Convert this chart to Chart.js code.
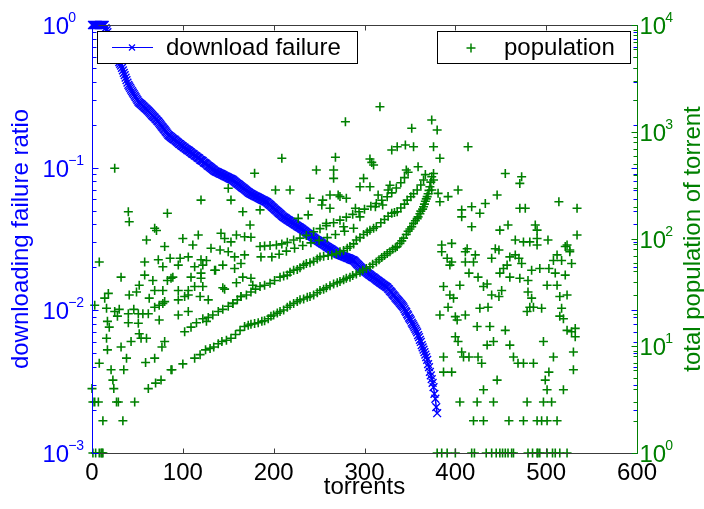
<!DOCTYPE html>
<html>
<head>
<meta charset="utf-8">
<script src="https://cdn.jsdelivr.net/npm/chart.js@4.4.1/dist/chart.umd.min.js"></script>
<style>
  html, body { margin: 0; padding: 0; background: #ffffff; }
  canvas { display: block; }
</style>
</head>
<body>
<canvas id="chart" width="704" height="509"></canvas>
<script>
// ---- axis ticks ----
const xTicks = [0, 100, 200, 300, 400, 500, 600];
const leftTicks = [0.001, 0.01, 0.1, 1];
const rightTicks = [1, 10, 100, 1000, 10000];

// ---- download failure ratio per torrent (torrent index = position) ----
const failureRatio = [
  1,1,1,1,1,1,1,1,1,1,1,1,1,1,1,
  0.95,0.92,0.89,0.85,0.82,0.79,0.75,0.72,0.70,0.67,0.65,0.63,0.61,0.59,0.57,0.55,0.535,
  0.52,0.50,0.481,0.462,0.445,0.428,0.411,0.395,0.38,
  0.371,0.362,0.353,0.344,0.336,0.328,0.320,0.312,0.305,0.297,0.29,
  0.286,0.282,0.279,0.275,0.271,0.268,0.264,0.260,0.257,0.253,0.25,
  0.246,0.242,0.238,0.234,0.231,0.227,0.224,0.220,0.217,0.213,0.21,
  0.206,0.202,0.198,0.194,0.191,0.187,0.184,0.180,0.177,0.173,0.17,
  0.168,0.166,0.164,0.162,0.160,0.158,0.157,0.155,0.153,0.151,0.149,0.147,0.146,0.144,
  0.142,0.141,0.139,0.138,0.136,0.135,0.133,0.132,0.131,0.129,0.128,0.126,0.125,0.124,0.122,0.121,0.120,0.118,0.117,
  0.116,0.114,0.113,0.112,0.111,0.109,0.108,0.107,0.106,0.104,0.103,0.102,0.101,0.0997,0.0985,0.0974,0.0963,0.095,
  0.0943,0.0936,0.0929,0.0923,0.0916,0.0909,0.0903,0.0896,0.0890,0.0883,0.0877,0.0870,0.0864,0.0858,0.0851,0.0845,0.0839,0.0833,0.0827,0.082,
  0.0811,0.0802,0.0792,0.0783,0.0774,0.0766,0.0757,0.0748,0.0740,0.0731,0.0723,0.0715,0.0707,0.0699,0.0691,0.0683,0.0675,0.0667,0.066,
  0.0655,0.0650,0.0645,0.0640,0.0635,0.0630,0.0626,0.0621,0.0616,0.0612,0.0607,0.0602,0.0598,0.0593,0.0589,0.0584,0.0580,0.0575,0.057,
  0.0563,0.0555,0.0548,0.0541,0.0534,0.0527,0.0520,0.0513,0.0506,0.0500,0.0493,0.0487,0.0480,0.0474,0.0468,0.0462,0.0456,0.045,
  0.0446,0.0442,0.0437,0.0433,0.0429,0.0425,0.0421,0.0417,0.0413,0.0409,0.0405,0.0401,0.0398,0.0394,0.0390,0.0386,0.0383,0.038,
  0.0376,0.0372,0.0368,0.0364,0.0360,0.0356,0.0352,0.0348,0.0344,0.0341,0.0337,0.0333,0.0330,0.0326,0.0323,0.0319,0.0316,0.0312,0.031,
  0.0307,0.0304,0.0301,0.0298,0.0295,0.0292,0.0290,0.0287,0.0284,0.0281,0.0279,0.0276,0.0273,0.0271,0.0268,0.0266,0.0263,0.0261,0.0258,0.0256,0.0253,0.025,
  0.0248,0.0247,0.0245,0.0244,0.0242,0.0241,0.0239,0.0238,0.0236,0.0235,0.0233,0.0232,0.0231,0.0229,0.0228,0.0226,0.0225,0.0224,
  0.0221,0.0218,0.0214,0.0211,0.0208,0.0205,0.0202,0.0199,0.0196,0.0193,
  0.0191,0.0189,0.0187,0.0185,0.0183,0.0181,0.0179,0.0177,0.0175,0.0173,0.0171,0.0170,0.0168,0.0166,0.0164,0.0162,0.0161,0.0159,0.0157,0.0156,0.0154,0.0152,0.0151,0.0149,0.0148,0.0146,0.0145,
  0.0142,0.0140,0.0137,0.0135,0.0133,0.0130,0.0128,0.0126,0.0123,0.0121,0.0119,0.0117,0.0115,0.0113,0.0111,0.0109,0.0107,0.0105,
  0.0102,0.0099,0.0097,0.0094,0.0092,0.0089,0.0087,0.0085,0.0082,0.0080,0.0078,0.0076,0.0074,0.0072,0.0070,
  0.0067,0.0065,0.0062,0.0060,0.0057,0.0055,0.0053,0.0051,0.0049,0.0047,0.0045,
  0.0042,0.0040,0.0037,0.0035,0.0033,0.0031,0.0029,
  0.0026,0.0024,0.0021,0.0019
];

// ---- total population of torrent: [torrent, population] ----
const popLeft = [
  [25,458],[179,411],[120,231],[153,231],[150,298],[40,180],[83,174],[41,145],[166,180],[185,187],
  [174,135],[69,126],[71,120],[60,98],[100,101],[117,109],[80,85],[111,88],[142,113],[146,101],
  [153,94],[159,109],[168,105],[175,104],[131,82],[141,79],[150,76],[157,68],[168,71],[185,85],
  [186,68],[8,61],[58,61],[73,64],[86,66],[97,66],[106,68],[120,64],[126,63],[78,55],
  [95,57],[113,55],[122,57],[135,51],[136,51],[144,57],[157,53],[164,59],[32,44],[58,46],
  [67,41],[87,43],[89,44],[109,44],[120,43],[120,48],[83,41],[166,44],[175,43],[52,37],
  [69,33],[78,33],[95,33],[106,33],[113,36],[122,36],[144,35],[146,34],[159,39],[177,37],
  [18,31],[14,28],[41,30],[49,32],[63,28],[78,25],[80,26],[95,27],[102,29],[106,30],
  [119,29],[128,27],[155,25],[164,29],[3,24],[16,22.5],[25,21],[30,22],[40,20],[46,22],
  [51,20],[56,20],[62,20],[69,23],[74,24],[95,19.5],[106,21],[126,17],[17,17],[28,19],
  [40,16.5],[51,16.3],[52,13],[74,17.5],[19,15],[16,11.8],[32,9.8],[43,11],[54,11.8],[60,11.8],
  [80,11],[77,9.8],[17,9.2],[38,7.7],[8,6.9],[21,6],[35,6],[59,7],[69,7.7],[23,4.8],
  [0,4],[24,4],[1,3],[3,3],[7,3],[29,3],[27,3],[47,3],[12,2],[34,2]
];

const popBandLow = [
  [62,4],[70,4.5],[76,4.8],[87,6],[88,6],[100,6.8],[113,7.7],[119,8.3],[125,9.2],[130,9.5],
  [134,9.8],[139,10.5],[143,11],[148,11.3],[153,11.8],[158,12.8],[163,14],[168,15.2],[172,15.6],[175,16],
  [179,16.2],[183,16.5],[187,17],[190,17.2],[194,18],[197,19],[200,19.5],[204,20.3],[207,21],[211,21.7],
  [215,23],[218,24],[222,25],[226,26],[229,27],[233,27.5],[237,28.5],[240,29],[244,30],[248,31.5],
  [251,33],[255,34],[258,35],[262,36.5],[266,38],[270,39],[273,40],[277,41.5],[280,43],[284,44],
  [287,45.5],[291,47],[295,49],[298,51],[302,53],[306,55],[309,58],[313,61],[316,64],[319,67],
  [322,70],[325,73],[328,76],[331,80],[334,83],[336,85],[339,91],[341,96],[343,102],[346,110],
  [348,118],[350,124],[352,130],[354,140],[356,148],[358,155],[359,161],[361,172],[362,182],[364,190],
  [365,200],[366,212],[367,225],[368,237],[369,249],[370,265],[371,285],[372,308],[373,340],[374,382]
];

const popBandMid = [
  [102,13.6],[109,15],[115,16.5],[122,18],[128,18.5],[133,19.5],[139,21],[144,22],[150,23.5],[155,25],
  [160,27],[164,29],[170,30],[175,32],[180,34],[185,36],[190,37],[196,38.5],[201,41],[207,44],
  [211,45],[215,46],[218,49],[222,51],[226,52],[229,54],[233,57],[236,59],[240,60],[244,62],
  [248,65],[251,68],[255,69],[260,70],[264,71],[269,73],[273,76],[277,78],[281,82],[284,85],
  [288,90],[291,98],[295,103],[299,110],[303,116],[306,121],[310,126],[313,130],[318,142],[322,152],
  [326,163],[330,174],[333,177],[336,180],[340,195],[344,212],[347,231],[351,248],[354,265],[358,287],
  [362,320],[365,356],[367,400]
];

const popBandUpper = [
  [198,68],[206,72],[214,77],[223,82],[232,87],[241,92],[250,97],[259,103],[268,110],[278,118],[288,126]
];

const popBandHigh = [
  [190,86],[196,87],[203,88],[209,90],[215,93],[222,98],[229,102],[236,108],[244,117],[251,125],
  [258,133],[266,142],[273,150],[280,160],[287,170],[294,180],[300,190],[307,202],[313,215],[319,230],
  [325,248],[330,270],[335,300],[340,335],[344,375],[348,420]
];

const popMid = [
  [317,1722],[279,1248],[374,1295],[352,1083],[380,1044],[345,756],[354,729],[330,679],[336,729],[376,729],
  [209,568],[268,580],[306,560],[308,520],[310,492],[247,442],[266,442],[266,369],[346,442],[359,474],
  [376,410],[376,356],[299,369],[202,287],[218,287],[295,308],[306,308],[326,287],[262,258],[271,258],
  [315,258],[240,240],[254,231],[273,249],[280,240],[253,208],[262,194],[290,194],[312,200],[320,208],
  [227,156],[238,168],[258,140],[277,130],[295,161],[328,318]
];

const popRight = [
  [414,729],[383,568],[455,410],[473,382],[471,331],[374,287],[381,267],[392,249],[403,287],[383,223],
  [446,258],[514,223],[534,194],[407,187],[418,200],[433,215],[427,174],[407,161],[471,194],[477,194],
  [418,130],[449,121],[458,135],[488,135],[534,109],[466,98],[475,94],[482,94],[490,101],[490,88],
  [502,98],[490,121],[521,85],[526,79],[385,88],[396,91],[385,76],[391,66],[394,57],[396,61],
  [413,81],[411,76],[422,71],[411,61],[420,61],[415,48],[425,44],[440,66],[448,79],[444,81],
  [453,53],[457,57],[449,48],[460,68],[466,71],[470,66],[473,59],[460,44],[471,43],[480,41],
  [484,51],[493,53],[503,53],[510,48],[508,63],[512,71],[517,63],[523,88],[526,76],[528,59],
  [521,46],[405,37],[431,36],[435,38],[440,30],[448,29],[451,33],[480,32],[484,28],[486,23],
  [495,22.5],[501,37],[512,37],[515,29],[523,30],[387,36],[394,30],[398,28],[392,23],[383,19.5],
  [400,18.8],[402,17.5],[411,19.5],[427,22.5],[436,23],[482,23],[479,21],[517,22.5],[515,19],[519,18],
  [523,14],[528,13.6],[532,14.6],[424,15.2],[438,15.2],[455,14],[400,12.2],[403,11],[407,8.8],[435,10.2],
  [442,11],[460,10.2],[497,11],[532,12.2],[530,8.8],[387,7.9],[409,7.9],[415,7.9],[425,7.9],[429,6.9],
  [464,7.9],[469,6.9],[475,6.9],[486,6.9],[508,7.9],[503,5.7],[387,5.7],[396,5.7],[530,6],[446,4.8],
  [499,4.8],[431,3.9],[501,3.9],[519,3.9],[405,3],[424,3],[442,3],[479,3],[497,3],[506,3],
  [420,2],[431,2],[459,2],[475,2],[490,2],[495,2],[501,2],[512,2]
];

// torrents with a population of exactly one
const popFloor = [
  1,4,8,10,11,12,
  380,385,391,400,418,421,434,440,445,449,452,455,458,462,464,480,485,490,491,493,501,507,510,515,523
];

// ---- styling ----
const BLUE = '#0000ff';
const GREEN = '#008000';
const FONT = '"Liberation Sans", Arial, Helvetica, sans-serif';

const failurePoints = failureRatio.map((v, i) => ({ x: i, y: v }));
const populationPoints = []
  .concat(popLeft, popBandLow, popBandMid, popBandUpper, popBandHigh, popMid, popRight)
  .map(([t, p]) => ({ x: t, y: p }))
  .concat(popFloor.map(t => ({ x: t, y: 1 })));

function superscriptExp(v) {
  const e = Math.round(Math.log10(v));
  return (e < 0 ? '\u2212' : '') + Math.abs(e);
}

function drawPower(ctx, x, y, v, color) {
  ctx.fillStyle = color;
  ctx.textAlign = 'left';
  ctx.textBaseline = 'alphabetic';
  ctx.font = '24px ' + FONT;
  ctx.fillText('10', x, y + 9);
  const w = ctx.measureText('10').width;
  ctx.font = '14px ' + FONT;
  ctx.fillText(superscriptExp(v), x + w - 1, y - 3);
}

const framePlugin = {
  id: 'frame',
  afterDatasetsDraw(chart) {
    const { ctx, chartArea: a, scales } = chart;
    const sx = scales.x, sl = scales.yL, sr = scales.yR;
    const L = a.left + 0.5, R = a.right + 0.5, T = a.top + 0.5, B = a.bottom + 0.5;
    const seg = (x1, y1, x2, y2) => { ctx.beginPath(); ctx.moveTo(x1, y1); ctx.lineTo(x2, y2); ctx.stroke(); };
    ctx.save();
    ctx.lineWidth = 1;

    // top and bottom edges with x ticks
    ctx.strokeStyle = '#3c3c3c';
    seg(L, T, R, T);
    seg(L, B, R, B);
    xTicks.forEach(v => {
      const px = Math.round(sx.getPixelForValue(v)) + 0.5;
      seg(px, T, px, T + 5);
      seg(px, B, px, B - 5);
    });

    // left (blue) axis, ticks mirrored on the right edge
    ctx.strokeStyle = BLUE;
    seg(L, T, L, B);
    for (let e = -3; e <= 0; e++) {
      for (let m = 1; m <= 9; m++) {
        const v = m * Math.pow(10, e);
        if (v > 1.0001) break;
        const py = Math.round(sl.getPixelForValue(v)) + 0.5;
        const len = m === 1 ? 6 : 4;
        seg(L, py, L + len, py);
        seg(R, py, R - len, py);
      }
    }

    // right (green) axis
    ctx.strokeStyle = GREEN;
    seg(R, T, R, B);
    for (let e = 0; e <= 4; e++) {
      for (let m = 1; m <= 9; m++) {
        const v = m * Math.pow(10, e);
        if (v > 10000.1) break;
        const py = Math.round(sr.getPixelForValue(v)) + 0.5;
        seg(R, py, R - (m === 1 ? 6 : 4), py);
      }
    }

    // legend boxes
    const box = (x1, y1, x2, y2) => {
      ctx.fillStyle = '#ffffff';
      ctx.fillRect(x1, y1, x2 - x1, y2 - y1);
      ctx.strokeStyle = '#000000';
      ctx.lineWidth = 1;
      ctx.strokeRect(x1 + 0.5, y1 + 0.5, x2 - x1, y2 - y1);
    };
    const dsFail = chart.data.datasets[1];
    const dsPop = chart.data.datasets[0];

    box(97, 31, 357, 63);
    ctx.strokeStyle = BLUE;
    ctx.lineWidth = 1.2;
    seg(112, 47.5, 153, 47.5);
    const mk = 3;
    seg(132 - mk, 47.5 - mk, 132 + mk, 47.5 + mk);
    seg(132 - mk, 47.5 + mk, 132 + mk, 47.5 - mk);
    ctx.fillStyle = '#000000';
    ctx.font = '24px ' + FONT;
    ctx.textAlign = 'left';
    ctx.textBaseline = 'alphabetic';
    ctx.fillText(dsFail.label, 166, 55);

    box(437, 31, 630, 63);
    ctx.strokeStyle = GREEN;
    ctx.lineWidth = 1.5;
    seg(466.5, 48, 475.5, 48);
    seg(471, 43.5, 471, 52.5);
    ctx.lineWidth = 1;
    ctx.fillStyle = '#000000';
    ctx.fillText(dsPop.label, 504, 55);

    // tick labels
    ctx.textAlign = 'center';
    ctx.font = '24px ' + FONT;
    ctx.fillStyle = '#000000';
    xTicks.forEach(v => ctx.fillText(String(v), sx.getPixelForValue(v), 480));
    leftTicks.forEach(v => drawPower(ctx, 42.5, sl.getPixelForValue(v), v, BLUE));
    rightTicks.forEach(v => drawPower(ctx, 639.5, sr.getPixelForValue(v), v, GREEN));

    // axis titles
    ctx.textAlign = 'center';
    ctx.textBaseline = 'alphabetic';
    ctx.font = '24px ' + FONT;
    ctx.fillStyle = '#000000';
    ctx.fillText('torrents', (a.left + a.right) / 2, 494);

    const midY = (a.top + a.bottom) / 2;
    ctx.save();
    ctx.translate(28, midY);
    ctx.rotate(-Math.PI / 2);
    ctx.fillStyle = BLUE;
    ctx.fillText('downloading failure ratio', 0, 0);
    ctx.restore();

    ctx.save();
    ctx.translate(700, midY);
    ctx.rotate(-Math.PI / 2);
    ctx.fillStyle = GREEN;
    ctx.fillText('total population of torrent', 0, 0);
    ctx.restore();

    ctx.restore();
  }
};

new Chart(document.getElementById('chart'), {
  type: 'scatter',
  data: {
    datasets: [
      {
        label: 'population',
        data: populationPoints,
        yAxisID: 'yR',
        showLine: false,
        pointStyle: 'cross',
        pointRadius: 4.5,
        pointBorderWidth: 1.6,
        borderColor: GREEN,
        backgroundColor: GREEN,
        clip: false
      },
      {
        label: 'download failure',
        data: failurePoints,
        yAxisID: 'yL',
        showLine: true,
        tension: 0,
        borderWidth: 1.5,
        borderColor: BLUE,
        backgroundColor: BLUE,
        pointStyle: 'crossRot',
        pointRadius: 5.5,
        pointBorderWidth: 1.4,
        clip: false
      }
    ]
  },
  options: {
    responsive: false,
    animation: false,
    devicePixelRatio: 1,
    events: [],
    layout: { padding: { top: 25, left: 0, right: 0, bottom: 0 } },
    plugins: { legend: { display: false }, tooltip: { enabled: false } },
    scales: {
      x: {
        type: 'linear', min: 0, max: 600,
        grid: { display: false }, border: { display: false }, ticks: { display: false },
        afterFit: s => { s.height = 56; }
      },
      yL: {
        type: 'logarithmic', position: 'left', min: 0.001, max: 1,
        grid: { display: false }, border: { display: false }, ticks: { display: false },
        afterFit: s => { s.width = 92; }
      },
      yR: {
        type: 'logarithmic', position: 'right', min: 1, max: 10000,
        grid: { display: false }, border: { display: false }, ticks: { display: false },
        afterFit: s => { s.width = 67; }
      }
    }
  },
  plugins: [framePlugin]
});
</script>
</body>
</html>
